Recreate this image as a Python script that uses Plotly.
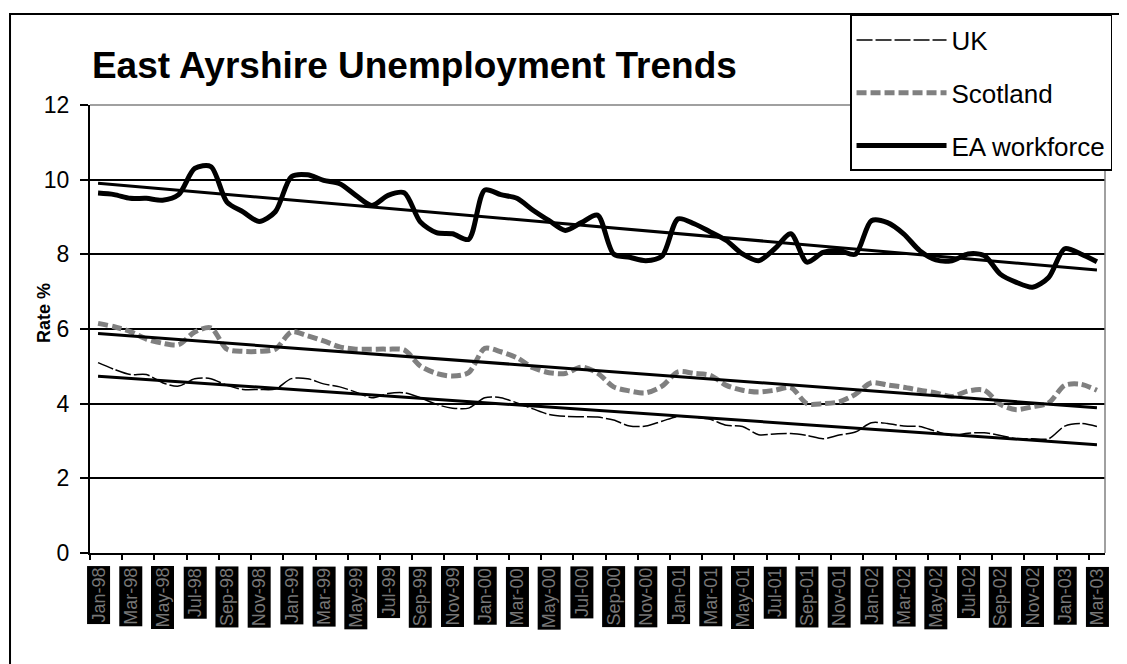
import numpy as np
import pandas as pd
import plotly.graph_objects as go

# ---- data ----
months = list(pd.date_range("1998-01-01", periods=63, freq="MS").strftime("%b-%y"))
tick_labels = months[::2]

uk = [5.10, 4.92, 4.78, 4.78, 4.56, 4.47, 4.67, 4.67, 4.49, 4.38, 4.38, 4.39, 4.67, 4.67, 4.53, 4.45,
      4.31, 4.16, 4.27, 4.29, 4.16, 3.98, 3.88, 3.88, 4.16, 4.16, 4.02, 3.86, 3.71, 3.66, 3.65, 3.64,
      3.56, 3.40, 3.40, 3.53, 3.66, 3.64, 3.58, 3.42, 3.39, 3.17, 3.19, 3.20, 3.15, 3.06, 3.16, 3.24,
      3.49, 3.47, 3.40, 3.39, 3.26, 3.15, 3.21, 3.22, 3.15, 3.06, 3.06, 3.06, 3.40, 3.47, 3.39]

scotland = [6.15, 6.06, 5.93, 5.73, 5.62, 5.58, 5.92, 6.03, 5.46, 5.40, 5.40, 5.46, 5.92, 5.82, 5.68, 5.52,
            5.46, 5.46, 5.46, 5.44, 5.01, 4.81, 4.74, 4.83, 5.48, 5.39, 5.23, 4.96, 4.83, 4.81, 4.98, 4.82,
            4.45, 4.34, 4.29, 4.47, 4.85, 4.81, 4.76, 4.49, 4.36, 4.31, 4.36, 4.43, 4.00, 4.00, 4.05, 4.25,
            4.56, 4.50, 4.44, 4.36, 4.29, 4.19, 4.34, 4.36, 3.98, 3.84, 3.92, 4.02, 4.49, 4.52, 4.36]

ea = [9.64, 9.60, 9.50, 9.50, 9.45, 9.60, 10.30, 10.35, 9.40, 9.14, 8.88, 9.14, 10.08, 10.13, 9.98, 9.89,
      9.58, 9.31, 9.58, 9.65, 8.87, 8.58, 8.55, 8.40, 9.72, 9.60, 9.50, 9.18, 8.90, 8.64, 8.85, 9.05,
      8.01, 7.92, 7.83, 7.95, 8.95, 8.82, 8.60, 8.37, 8.01, 7.83, 8.15, 8.55, 7.79, 8.05, 8.10, 8.00,
      8.90, 8.85, 8.55, 8.10, 7.85, 7.83, 8.01, 7.97, 7.47, 7.25, 7.12, 7.38, 8.15, 8.01, 7.80]

series = [("UK", uk, dict(color="black", width=1.5, dash="16px,3px")),
          ("Scotland", scotland, dict(color="#808080", width=5, dash="10px,4px")),
          ("EA workforce", ea, dict(color="black", width=5))]

FONT = "Liberation Sans, Arial, sans-serif"

fig = go.Figure()
idx = np.arange(len(months))
for name, vals, line in series:
    fig.add_trace(go.Scatter(x=months, y=vals, name=name, mode="lines",
                             line=dict(shape="spline", smoothing=0.8, **line),
                             legendgroup=name))
for name, vals, line in series:
    slope, intercept = np.polyfit(idx, vals, 1)
    fig.add_trace(go.Scatter(x=months, y=slope * idx + intercept, mode="lines",
                             line=dict(color="black", width=3), showlegend=False,
                             hoverinfo="skip"))

# x tick labels as dark boxes
for lab in tick_labels:
    fig.add_annotation(x=lab, xref="x", y=0, yref="paper", yanchor="top", yshift=-13,
                       text=lab, textangle=-90, showarrow=False,
                       font=dict(family=FONT, size=18, color="#777777"),
                       bgcolor="black", borderpad=1)

fig.add_annotation(x=-0.0571, xref="paper", y=0.536, yref="paper", text="<b>Rate %</b>",
                   textangle=-90, showarrow=False, font=dict(family=FONT, size=18, color="black"))

# chart border and plot-area top/right edges
fig.add_shape(type="rect", xref="paper", yref="paper", x0=-0.0788, x1=1.2, y0=-0.5, y1=1.203,
              line=dict(color="black", width=2), layer="below")
fig.add_shape(type="line", xref="paper", yref="paper", x0=0, x1=1, y0=1, y1=1,
              line=dict(color="#808080", width=1.5), layer="above")
fig.add_shape(type="line", xref="paper", yref="paper", x0=1, x1=1, y0=0, y1=1,
              line=dict(color="#808080", width=1.5), layer="above")

fig.update_layout(
    width=1119, height=656,
    margin=dict(l=82, r=22, t=97, b=111, autoexpand=False),
    paper_bgcolor="white", plot_bgcolor="white",
    font=dict(family=FONT, color="black"),
    title=dict(text="<b>East Ayrshire Unemployment Trends</b>", x=0.075, xanchor="left",
               xref="container", y=0.913, yanchor="middle", yref="container",
               font=dict(family=FONT, size=37, color="black")),
    showlegend=True,
    legend=dict(x=0.7488, y=1.2009, xanchor="left", yanchor="top",
                bgcolor="white", bordercolor="black", borderwidth=1.5,
                font=dict(family=FONT, size=26, color="black"),
                itemwidth=90, tracegroupgap=16),
    xaxis=dict(type="category", range=[-0.5, 62.5], showgrid=False, showticklabels=False,
               ticks="outside", ticklen=5, tickcolor="black", tickwidth=1.5,
               tickson="boundaries", dtick=2,
               showline=True, linecolor="black", linewidth=2, zeroline=False),
    yaxis=dict(range=[0, 12], dtick=2, ticks="outside", ticklen=8, tickcolor="black",
               tickwidth=1.5, showline=True, linecolor="black", linewidth=2,
               showgrid=True, gridcolor="black", gridwidth=1.5, zeroline=False,
               ticklabelstandoff=6,
               tickfont=dict(family=FONT, size=23, color="black")),
)

fig.write_html("out.html")
